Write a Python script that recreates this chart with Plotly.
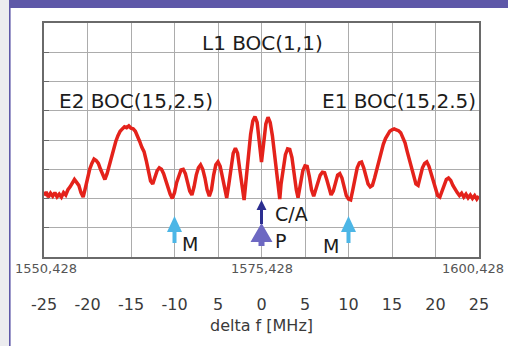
import plotly.graph_objects as go

# ---- data ----
# delta f [MHz], power level in grid divisions (0 = bottom, 8 = top)
freq = [-25.0, -24.75, -24.5, -24.25, -24.0, -23.75, -23.5, -23.25, -23.0, -22.75, -22.5, -22.25,
        -22.0, -21.75, -21.5, -21.25, -21.0, -20.75, -20.5, -20.25, -20.0, -19.75, -19.5, -19.25,
        -19.0, -18.75, -18.5, -18.25, -18.0, -17.75, -17.5, -17.25, -17.0, -16.75, -16.5, -16.25,
        -16.0, -15.75, -15.5, -15.25, -15.0, -14.75, -14.5, -14.25, -14.0, -13.75, -13.5, -13.25,
        -13.0, -12.75, -12.5, -12.25, -12.0, -11.75, -11.5, -11.25, -11.0, -10.75, -10.5, -10.25,
        -10.0, -9.75, -9.5, -9.25, -9.0, -8.75, -8.5, -8.25, -8.0, -7.75, -7.5, -7.25,
        -7.0, -6.75, -6.5, -6.25, -6.0, -5.75, -5.5, -5.25, -5.0, -4.75, -4.5, -4.25,
        -4.0, -3.75, -3.5, -3.25, -3.0, -2.75, -2.5, -2.25, -2.0, -1.75, -1.5, -1.25,
        -1.0, -0.75, -0.5, -0.25, 0.0, 0.25, 0.5, 0.75, 1.0, 1.25, 1.5, 1.75,
        2.0, 2.1, 2.25, 2.5, 2.75, 3.0, 3.25, 3.5, 3.75, 4.0, 4.2, 4.5,
        4.75, 5.0, 5.25, 5.5, 5.75, 6.0, 6.25, 6.5, 6.75, 7.0, 7.25, 7.5,
        7.75, 8.0, 8.25, 8.5, 8.75, 9.0, 9.25, 9.5, 9.75, 10.0, 10.25, 10.5,
        10.75, 11.0, 11.25, 11.5, 11.75, 12.0, 12.25, 12.5, 12.75, 13.0, 13.25, 13.5,
        13.75, 14.0, 14.25, 14.5, 14.75, 15.0, 15.25, 15.5, 15.75, 16.0, 16.25, 16.5,
        16.75, 17.0, 17.25, 17.5, 17.75, 18.0, 18.25, 18.5, 18.75, 19.0, 19.25, 19.5,
        19.75, 20.0, 20.25, 20.5, 20.75, 21.0, 21.25, 21.5, 21.75, 22.0, 22.25, 22.5,
        22.75, 23.0, 23.25, 23.5, 23.75, 24.0, 24.25, 24.5, 24.75, 25.0]
level = [2.10, 2.22, 2.05, 2.18, 2.08, 2.20, 2.06, 2.15, 2.05, 2.20, 2.12, 2.30,
         2.40, 2.50, 2.65, 2.55, 2.45, 2.20, 2.05, 2.35, 2.70, 3.00, 3.20, 3.35,
         3.30, 3.20, 3.00, 2.80, 2.65, 2.85, 3.15, 3.45, 3.75, 3.95, 4.15, 4.30,
         4.38, 4.45, 4.42, 4.48, 4.40, 4.38, 4.30, 4.15, 3.95, 3.75, 3.60, 3.30,
         2.95, 2.60, 2.50, 2.70, 2.95, 3.05, 3.00, 2.85, 2.60, 2.40, 2.15, 2.00,
         2.20, 2.55, 2.80, 2.98, 3.00, 2.85, 2.55, 2.25, 2.12, 2.40, 2.80, 3.05,
         3.15, 3.00, 2.70, 2.30, 2.08, 2.30, 2.80, 3.15, 3.25, 3.10, 2.75, 2.30,
         2.02, 2.50, 3.10, 3.55, 3.72, 3.55, 3.00, 2.40, 1.95, 2.70, 3.50, 4.20,
         4.65, 4.80, 4.60, 4.00, 3.25, 3.90, 4.55, 4.78, 4.60, 4.15, 3.50, 2.70,
         2.05, 1.98, 2.50, 3.10, 3.50, 3.70, 3.68, 3.40, 2.80, 2.30, 2.03, 2.50,
         2.95, 3.12, 3.10, 2.75, 2.30, 2.08, 2.30, 2.60, 2.80, 2.90, 2.88, 2.65,
         2.35, 2.12, 2.25, 2.55, 2.80, 2.85, 2.70, 2.40, 2.10, 1.98, 1.95, 2.30,
         2.75, 3.05, 3.22, 3.25, 3.05, 2.75, 2.50, 2.40, 2.45, 2.70, 3.00, 3.30,
         3.60, 3.85, 4.05, 4.20, 4.30, 4.35, 4.38, 4.35, 4.32, 4.25, 4.10, 3.90,
         3.60, 3.30, 3.00, 2.70, 2.50, 2.45, 2.75, 3.05, 3.20, 3.25, 3.10, 2.85,
         2.50, 2.25, 2.10, 2.05, 2.25, 2.50, 2.65, 2.70, 2.62, 2.45, 2.30, 2.20,
         2.10, 2.18, 2.05, 2.15, 2.02, 2.12, 2.00, 2.10, 1.98, 2.08]

signal_labels = ["L1 BOC(1,1)", "E2 BOC(15,2.5)", "E1 BOC(15,2.5)"]
tick_vals = [-25, -20, -15, -10, -5, 0, 5, 10, 15, 20, 25]
tick_text = ["-25", "-20", "-15", "-10", "5", "0", "5", "10", "15", "20", "25"]
carrier_vals = [-25, 0, 25]
carrier_text = ["1550,428", "1575,428", "1600,428"]
markers_M = [-10, 10]
marker_P = 0
marker_CA = 0

FONT = "DejaVu Sans"
W, H = 508, 346
L, R, T, B = 44, 29, 23, 89
pw, ph = W - L - R, H - T - B

def px_x(p):
    return (p - L) / pw

def px_y(p):
    return (H - B - p) / ph

fig = go.Figure()
fig.add_trace(go.Scatter(x=freq, y=level, mode="lines",
                         line=dict(color="#e4221b", width=3.5), hoverinfo="skip"))

shapes = []
# decorative page frame
shapes.append(dict(type="rect", xref="paper", yref="paper", x0=px_x(0), x1=px_x(9),
                   y0=px_y(H), y1=px_y(0), fillcolor="#ececef", line=dict(width=0), layer="below"))
shapes.append(dict(type="rect", xref="paper", yref="paper", x0=px_x(9), x1=px_x(W),
                   y0=px_y(8), y1=px_y(0), fillcolor="#5e58a8", line=dict(width=0)))
shapes.append(dict(type="line", xref="paper", yref="paper", x0=px_x(9.8), x1=px_x(9.8),
                   y0=px_y(H), y1=px_y(8), line=dict(color="#5e58a8", width=1.6)))

arrow_M = "M -2,14 L 2,14 L 2,25 L 7.5,25 L 0,41 L -7.5,25 L -2,25 Z"
arrow_P = "M -3,11 L 3,11 L 3,15 L 11,15 L 0,34 L -11,15 L -3,15 Z"
arrow_CA = "M -1.5,33 L 1.5,33 L 1.5,47 L 5,47 L 0,57 L -5,47 L -1.5,47 Z"
for m in markers_M:
    shapes.append(dict(type="path", xref="x", yref="y", xsizemode="pixel", ysizemode="pixel",
                       xanchor=m, yanchor=0, path=arrow_M, fillcolor="#4cb6e6",
                       line=dict(width=0)))
shapes.append(dict(type="path", xref="x", yref="y", xsizemode="pixel", ysizemode="pixel",
                   xanchor=marker_P, yanchor=0, path=arrow_P, fillcolor="#6d68c2",
                   line=dict(width=0)))
shapes.append(dict(type="path", xref="x", yref="y", xsizemode="pixel", ysizemode="pixel",
                   xanchor=marker_CA, yanchor=0, path=arrow_CA, fillcolor="#2c2e90",
                   line=dict(width=0)))

ann = []
big = dict(family=FONT, size=20, color="#1c1c1c")
ann.append(dict(x=0.17, y=7.32, text=signal_labels[0], showarrow=False, font=big))
ann.append(dict(x=-14.4, y=5.33, text=signal_labels[1], showarrow=False, font=big))
ann.append(dict(x=15.8, y=5.33, text=signal_labels[2], showarrow=False, font=big))
mid = dict(family=FONT, size=19, color="#1c1c1c")
ann.append(dict(x=markers_M[0], y=0, xshift=15, yshift=13, text="M", showarrow=False, font=mid))
ann.append(dict(x=markers_M[1], y=0, xshift=-18, yshift=11, text="M", showarrow=False, font=mid))
ann.append(dict(x=marker_P, y=0, xshift=19, yshift=16, text="P", showarrow=False, font=mid))
ann.append(dict(x=marker_CA, y=0, xshift=30, yshift=43, text="C/A", showarrow=False, font=mid))
shifts = [2, 0, -6]
for v, t, s in zip(carrier_vals, carrier_text, shifts):
    ann.append(dict(x=v, xref="x", y=px_y(268), yref="paper", yanchor="middle",
                    text=t, showarrow=False, xshift=s,
                    font=dict(family=FONT, size=13, color="#555555")))

fig.update_layout(
    width=W, height=H, margin=dict(l=L, r=R, t=T, b=B, autoexpand=False),
    paper_bgcolor="white", plot_bgcolor="white", showlegend=False,
    shapes=shapes, annotations=ann,
    xaxis=dict(range=[-25, 25], tickvals=tick_vals, ticktext=tick_text,
               showgrid=True, gridcolor="#acacac", gridwidth=1.3, zeroline=False,
               showline=True, mirror=True, linecolor="#6a6a6a", linewidth=2,
               ticks="", ticklabelstandoff=32,
               tickfont=dict(family=FONT, size=16, color="#3a3a3a"),
               title=dict(text="delta f [MHz]", standoff=7,
                          font=dict(family=FONT, size=16, color="#3a3a3a"))),
    yaxis=dict(range=[0, 8], dtick=1, showticklabels=False, showgrid=True,
               gridcolor="#acacac", gridwidth=1.3, zeroline=False,
               showline=True, mirror=True, linecolor="#6a6a6a", linewidth=2,
               ticks="inside", ticklen=5, tickcolor="#6a6a6a"),
)
fig.write_html("out.html", config={"displayModeBar": False},
               post_script="document.body.style.margin='0';document.body.style.overflow='hidden';")
